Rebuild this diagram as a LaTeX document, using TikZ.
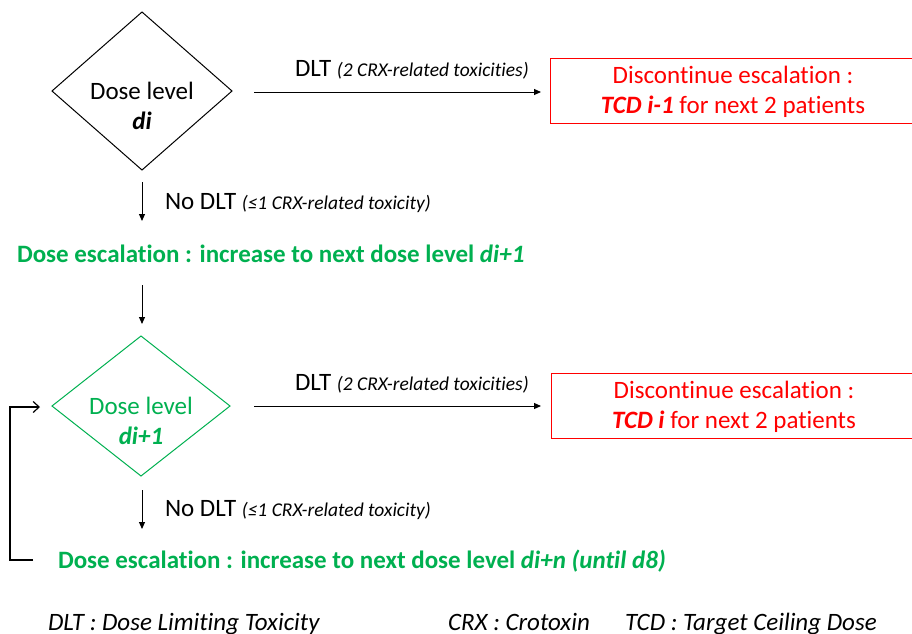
\documentclass[tikz,border=0pt]{standalone}
\usepackage{fontspec}
\setmainfont{Carlito}[Ligatures={NoCommon}]
\usetikzlibrary{shapes.geometric,arrows.meta}
\definecolor{offgreen}{RGB}{0,176,80}
\definecolor{offred}{RGB}{255,0,0}
\begin{document}
\begin{tikzpicture}[x=1pt,y=-1pt,
  every node/.style={inner sep=0pt,outer sep=0pt},
  main/.style={font=\fontsize{25}{30}\selectfont},
  decision/.style={diamond,draw,line width=1pt,minimum width=180pt,minimum height=158pt},
  stopbox/.style={rectangle,draw=offred,line width=1pt,minimum width=366pt,minimum height=65pt},
  flow/.style={-{Triangle[length=7pt,width=6pt]},line width=1pt},
  back/.style={-{Straight Barb[length=6pt,width=11pt]},line width=1.2pt}
]
\useasboundingbox (0,0) rectangle (912,633);

% first decision
\node[decision] (d1) at (142,91) {};
\node[main,align=center] (d1t) at (142,106) {Dose level\\\textbf{\textit{di}}};
\node[stopbox] (b1) at (733,90.5) {};
\node[main,text=offred,align=center] (b1t) at (733,92) {Discontinue escalation :\\\textbf{\textit{TCD i-1}} for next 2 patients};
\coordinate (a1s) at (254,92);
\coordinate (a1e) at (541,92);
\draw[flow] (a1s) -- (a1e);
\node[main,anchor=west] (l1) at (295,70) {DLT \textit{\fontsize{19.5}{22}\selectfont(2 CRX-related toxicities)}};

\coordinate (v1s) at (142,182);
\coordinate (v1e) at (142,221);
\draw[flow] (v1s) -- (v1e);
\node[main,anchor=west] (n1) at (165,203) {No DLT \textit{\fontsize{19.5}{22}\selectfont(≤1 CRX-related toxicity)}};

\node[main,anchor=west,text=offgreen,font=\fontsize{25}{30}\selectfont\bfseries] (e1) at (17,254) {Dose escalation : increase to next dose level \textit{di+1}};

\coordinate (v2s) at (142,285);
\coordinate (v2e) at (142,324);
\draw[flow] (v2s) -- (v2e);

% second decision
\node[decision,draw=offgreen,minimum width=178pt,minimum height=140pt] (d2) at (141,406) {};
\node[main,text=offgreen,align=center] (d2t) at (141,421) {Dose level\\\textbf{\textit{di+1}}};
\node[stopbox] (b2) at (734,406) {};
\node[main,text=offred,align=center] (b2t) at (734,407) {Discontinue escalation :\\\textbf{\textit{TCD i}} for next 2 patients};
\coordinate (a2s) at (254,406);
\coordinate (a2e) at (541,406);
\draw[flow] (a2s) -- (a2e);
\node[main,anchor=west] (l2) at (295,384) {DLT \textit{\fontsize{19.5}{22}\selectfont(2 CRX-related toxicities)}};

\coordinate (v3s) at (142,490);
\coordinate (v3e) at (142,529);
\draw[flow] (v3s) -- (v3e);
\node[main,anchor=west] (n2) at (165,510) {No DLT \textit{\fontsize{19.5}{22}\selectfont(≤1 CRX-related toxicity)}};

\node[main,anchor=west,text=offgreen,font=\fontsize{25}{30}\selectfont\bfseries] (e2) at (58,561) {Dose escalation : increase to next dose level \textit{di+n (until d8)}};

% feedback loop
\coordinate (fb1) at (33,560);
\coordinate (fb2) at (10,560);
\coordinate (fb3) at (10,407);
\coordinate (fb4) at (40,407);
\draw[back] (fb1) -- (fb2) -- (fb3) -- (fb4);

% legend
\node[anchor=base west,font=\fontsize{25}{30}\selectfont\itshape] (g1) at (48,630) {DLT : Dose Limiting Toxicity};
\node[anchor=base west,font=\fontsize{25}{30}\selectfont\itshape] (g2) at (448,630) {CRX : Crotoxin};
\node[anchor=base west,font=\fontsize{25}{30}\selectfont\itshape] (g3) at (625,630) {TCD : Target Ceiling Dose};
\end{tikzpicture}
\end{document}
